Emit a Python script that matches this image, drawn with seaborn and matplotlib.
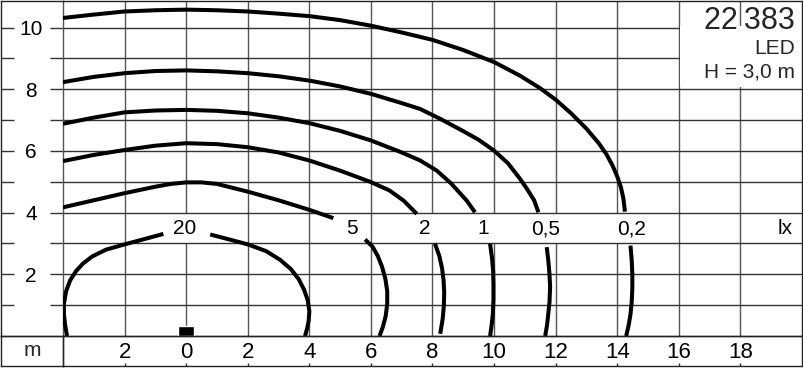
import numpy as np
import pandas as pd
import matplotlib
matplotlib.use("Agg")
import matplotlib.pyplot as plt
from matplotlib.patches import Rectangle
import seaborn as sns

# ---------------- data ----------------
lux_labels = ["20", "5", "2", "1", "0,5", "0,2"]
label_x = [-0.06, 5.38, 7.76, 9.63, 11.68, 14.46]
label_y = 3.48
unit_label = "lx"
unit_x = 19.45

# 20 lx (closed loop around the luminaire, broken at its label)
c20_a_x = [-3.87, -3.93, -3.97, -3.97, -3.90, -3.77, -3.58, -3.35, -3.05, -2.60, -2.00, -1.40, -0.74]
c20_a_y = [0.00, 0.35, 0.70, 1.04, 1.45, 1.80, 2.10, 2.35, 2.58, 2.80, 2.97, 3.13, 3.31]
c20_b_x = [0.78, 1.40, 2.00, 2.60, 3.05, 3.40, 3.65, 3.83, 3.95, 4.00, 3.98, 3.93, 3.86]
c20_b_y = [3.29, 3.13, 2.97, 2.75, 2.47, 2.17, 1.85, 1.50, 1.15, 0.80, 0.50, 0.25, 0.00]

# 5 lx
c5_a_x = [-4.0, -3.0, -2.0, -1.0, -0.5, 0.0, 0.5, 1.0, 2.0, 3.0, 4.0, 4.78]
c5_a_y = [4.17, 4.40, 4.63, 4.84, 4.93, 4.98, 4.98, 4.93, 4.68, 4.40, 4.09, 3.82]
c5_b_x = [5.81, 6.05, 6.22, 6.36, 6.47, 6.53, 6.53, 6.48, 6.39, 6.28]
c5_b_y = [3.13, 2.90, 2.60, 2.25, 1.85, 1.45, 1.05, 0.65, 0.30, 0.00]

# 2 lx
c2_a_x = [-4.0, -3.0, -2.0, -1.0, 0.0, 1.0, 2.0, 3.0, 4.0, 5.0, 6.0, 6.6, 7.06, 7.49]
c2_a_y = [5.67, 5.87, 6.03, 6.17, 6.25, 6.22, 6.12, 5.95, 5.69, 5.36, 4.99, 4.72, 4.39, 3.96]
c2_b_x = [8.08, 8.22, 8.31, 8.36, 8.38, 8.37, 8.33, 8.25]
c2_b_y = [2.99, 2.60, 2.20, 1.80, 1.40, 1.00, 0.55, 0.07]

# 1 lx
c1_a_x = [-4.0, -3.0, -2.0, -1.0, 0.0, 1.0, 2.0, 3.0, 4.0, 5.0, 6.0, 7.0, 7.6, 8.14, 8.6, 9.11, 9.38]
c1_a_y = [6.88, 7.08, 7.25, 7.31, 7.33, 7.30, 7.22, 7.08, 6.90, 6.65, 6.34, 5.95, 5.69, 5.36, 4.95, 4.39, 4.01]
c1_b_x = [9.87, 9.93, 9.97, 9.98, 9.98, 9.96, 9.92, 9.87]
c1_b_y = [2.99, 2.55, 2.10, 1.65, 1.20, 0.72, 0.35, 0.00]

# 0,5 lx
c05_a_x = [-4.0, -3.0, -2.0, -1.0, 0.0, 1.0, 2.0, 3.0, 4.0, 5.0, 6.0, 7.0, 7.6, 8.25, 9.0, 9.5,
           10.0, 10.45, 10.84, 11.1, 11.3, 11.44]
c05_a_y = [8.23, 8.40, 8.52, 8.59, 8.61, 8.58, 8.52, 8.42, 8.28, 8.09, 7.85, 7.55, 7.36, 7.04, 6.64, 6.36,
           6.01, 5.60, 5.10, 4.72, 4.40, 4.01]
c05_b_x = [11.71, 11.76, 11.80, 11.82, 11.80, 11.76, 11.72, 11.66]
c05_b_y = [2.88, 2.45, 2.00, 1.58, 1.10, 0.72, 0.35, 0.00]

# 0,2 lx
c02_a_x = [-4.0, -3.0, -2.0, -1.0, 0.0, 1.0, 2.0, 3.0, 4.0, 5.0, 6.0, 7.0, 8.0, 9.0, 10.0, 10.84,
           11.5, 12.0, 12.5, 13.0, 13.4, 13.65, 13.85, 14.0, 14.12, 14.2, 14.25]
c02_a_y = [10.31, 10.42, 10.52, 10.56, 10.58, 10.56, 10.52, 10.45, 10.37, 10.24, 10.06, 9.84, 9.60, 9.27,
           8.88, 8.44, 8.03, 7.66, 7.22, 6.72, 6.25, 5.89, 5.52, 5.17, 4.82, 4.45, 4.03]
c02_b_x = [14.43, 14.47, 14.49, 14.49, 14.47, 14.43, 14.37, 14.29]
c02_b_y = [2.93, 2.45, 2.00, 1.55, 1.10, 0.70, 0.35, 0.00]

lum_x = [0.0]
lum_h = [0.32]

x_ticks = [-2, 0, 2, 4, 6, 8, 10, 12, 14, 16, 18]
x_tick_labels = ["2", "0", "2", "4", "6", "8", "10", "12", "14", "16", "18"]
y_ticks = [1, 2, 3, 4, 5, 6, 7, 8, 9, 10]
y_tick_labels = ["", "2", "", "4", "", "6", "", "8", "", "10"]

title_num = "22\u2009383"
title_l2 = "LED"
title_l3 = "H = 3,0 m"

# ---------------- table for seaborn ----------------
segments = [
    ("20a", c20_a_x, c20_a_y), ("20b", c20_b_x, c20_b_y),
    ("5a", c5_a_x, c5_a_y), ("5b", c5_b_x, c5_b_y),
    ("2a", c2_a_x, c2_a_y), ("2b", c2_b_x, c2_b_y),
    ("1a", c1_a_x, c1_a_y), ("1b", c1_b_x, c1_b_y),
    ("05a", c05_a_x, c05_a_y), ("05b", c05_b_x, c05_b_y),
    ("02a", c02_a_x, c02_a_y), ("02b", c02_b_x, c02_b_y),
]
rows = []
for seg, xs, ys in segments:
    for i, (xv, yv) in enumerate(zip(xs, ys)):
        rows.append({"seg": seg, "order": i, "x": xv, "y": yv})
df = pd.DataFrame(rows)

# ---------------- figure ----------------
sns.set_theme(style="white")
plt.rcParams["font.family"] = ["Liberation Sans", "DejaVu Sans"]

W, H = 804, 368
fig = plt.figure(figsize=(W / 100, H / 100), dpi=100)
fig.patch.set_facecolor("white")

XMIN, XMAX, YMIN, YMAX = -4, 20, 0, 10.86
GRID_V = "#555555"
GRID_H = "#333333"
BORDER = "#222222"

ax = fig.add_axes([63 / W, 32 / H, 739 / W, 335 / H])
ax.set_facecolor("white")

# grid
for xv in x_ticks:
    ax.axvline(xv, color=GRID_V, lw=1.0, zorder=1)
for yv in y_ticks:
    ax.axhline(yv, color=GRID_H, lw=1.0, zorder=2)

# white band behind the isolux labels
for txt, xv in zip(lux_labels + [unit_label], label_x + [unit_x]):
    hw = 0.5 if len(txt) == 1 else 0.75
    ax.add_patch(Rectangle((xv - hw, 3.03), 2 * hw, 0.94, facecolor="white",
                           edgecolor="none", zorder=1.5))

# white info box top right
ax.add_patch(Rectangle((16.03, 8.06), 4.0, 2.0, facecolor="white", edgecolor="none", zorder=2.5))

# isolux curves
sns.lineplot(data=df, x="x", y="y", units="seg", estimator=None, sort=False,
             color="black", linewidth=2.9, ax=ax, legend=False, zorder=4,
             solid_capstyle="butt", solid_joinstyle="round")

# luminaire
ax.bar(lum_x, lum_h, width=0.53, bottom=0, color="black", zorder=3)

# labels
for txt, xv in zip(lux_labels, label_x):
    ax.text(xv, label_y, txt, ha="center", va="center", fontsize=15, color="black", zorder=5)
ax.text(unit_x, label_y, unit_label, ha="center", va="center", fontsize=15, color="black", zorder=5)

ax.text(19.76, 9.96, title_num, ha="right", va="baseline", fontsize=22, zorder=5)
ax.text(19.76, 9.15, title_l2, ha="right", va="baseline", fontsize=15, zorder=5)
ax.text(19.76, 8.37, title_l3, ha="right", va="baseline", fontsize=15, zorder=5)

ax.set_xlim(XMIN, XMAX)
ax.set_ylim(YMIN, YMAX)
ax.set_xlabel("")
ax.set_ylabel("")
ax.set_xticks(x_ticks, x_tick_labels)
ax.set_yticks(y_ticks, y_tick_labels, ha="center")
ax.tick_params(axis="x", length=0, pad=4.2, labelsize=16, colors="black")
ax.tick_params(axis="y", direction="out", length=9.36, width=1.0, pad=13.7,
               labelsize=15, color=GRID_H, labelcolor="black", left=True)
for side in ["top", "right", "bottom"]:
    ax.spines[side].set_color(BORDER)
    ax.spines[side].set_linewidth(1.0)
ax.spines["left"].set_color(GRID_V)
ax.spines["left"].set_linewidth(1.0)

# left label column (outer tick dashes)
axl = fig.add_axes([1 / W, 32 / H, 62 / W, 335 / H], sharey=ax)
axl.set_facecolor("none")
axl.set_xticks([])
axl.tick_params(axis="y", direction="in", length=9.36, width=1.0, color=GRID_H,
                labelleft=False, left=True)
axl.spines["right"].set_visible(False)
for side in ["left", "top", "bottom"]:
    axl.spines[side].set_color(BORDER)
    axl.spines[side].set_linewidth(1.0)

# bottom label row
axb = fig.add_axes([63 / W, 2 / H, 739 / W, 30 / H], sharex=ax)
axb.set_facecolor("none")
axb.set_yticks([])
axb.tick_params(axis="x", direction="in", length=2.5, width=1.0, color=GRID_H,
                labelbottom=False, bottom=True)
axb.spines["left"].set_color(GRID_V)
for side in ["right", "bottom", "top"]:
    axb.spines[side].set_color(BORDER)
for side in axb.spines:
    axb.spines[side].set_linewidth(1.0)

# corner cell with unit "m"
axc = fig.add_axes([1 / W, 2 / H, 62 / W, 30 / H])
axc.set_facecolor("none")
axc.set_xticks([])
axc.set_yticks([])
for side in axc.spines:
    axc.spines[side].set_color(BORDER)
    axc.spines[side].set_linewidth(1.0)
axc.text(0.5, 0.5, "m", ha="center", va="center", fontsize=15, transform=axc.transAxes)

fig.savefig("out.png", dpi=100, facecolor="white")
